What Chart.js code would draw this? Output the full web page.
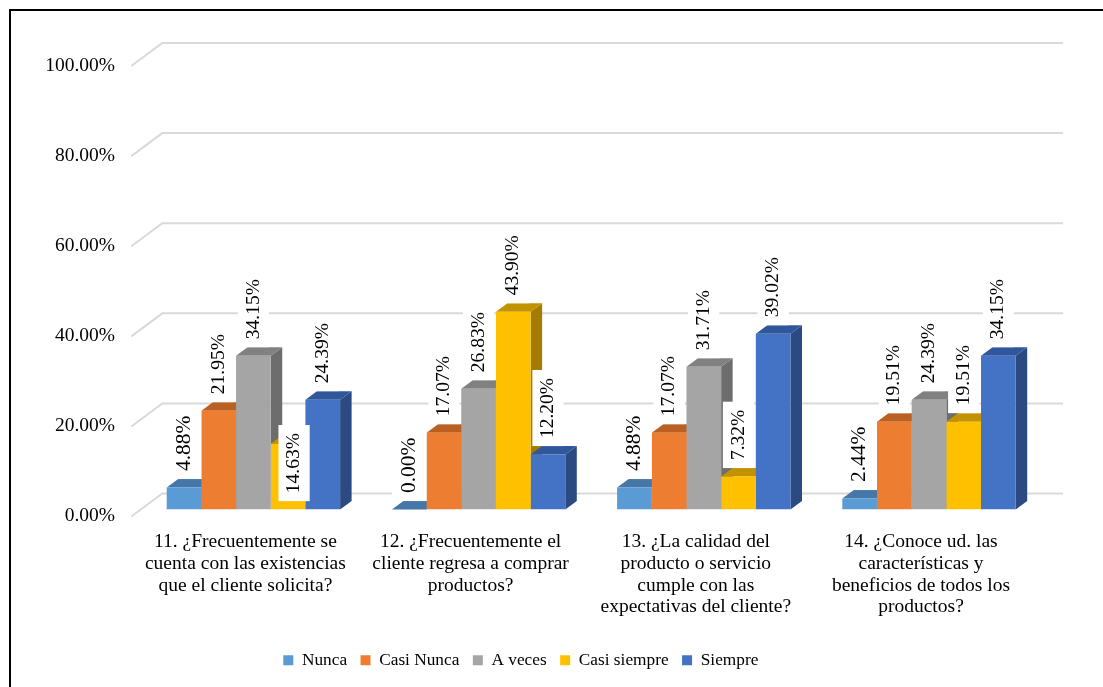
<!DOCTYPE html>
<html>
<head>
<meta charset="utf-8">
<script src="https://cdn.jsdelivr.net/npm/chart.js@4.4.0/dist/chart.umd.min.js"></script>
<style>
  html, body { margin: 0; padding: 0; background: #ffffff; }
  canvas { display: block; }
</style>
</head>
<body>
<canvas id="chart" width="1103" height="687"></canvas>
<script>
// Survey questions (category axis), one array of wrapped lines per question
const categories = [
  ['11. ¿Frecuentemente se', 'cuenta con las existencias', 'que el cliente solicita?'],
  ['12. ¿Frecuentemente el', 'cliente regresa a comprar', 'productos?'],
  ['13. ¿La calidad del', 'producto o servicio', 'cumple con las', 'expectativas del cliente?'],
  ['14. ¿Conoce ud. las', 'características y', 'beneficios de todos los', 'productos?']
];

// Answer options
const seriesNames = ['Nunca', 'Casi Nunca', 'A veces', 'Casi siempre', 'Siempre'];

// Percentage of respondents per answer option
const nunca       = [4.88, 0.00, 4.88, 2.44];
const casiNunca   = [21.95, 17.07, 17.07, 19.51];
const aVeces      = [34.15, 26.83, 31.71, 24.39];
const casiSiempre = [14.63, 43.90, 7.32, 19.51];
const siempre     = [24.39, 12.20, 39.02, 34.15];

// Value axis ticks
const yTicks = [0, 20, 40, 60, 80, 100];

// Face colours for each series: front, top, right side
const faceColors = [
  { front: '#5B9BD5', top: '#4577A8', side: '#3B6896' },
  { front: '#ED7D31', top: '#BA6022', side: '#A6541C' },
  { front: '#A5A5A5', top: '#818181', side: '#6D6D6D' },
  { front: '#FFC000', top: '#C29200', side: '#A47C00' },
  { front: '#4472C4', top: '#30579B', side: '#2B4A82' }
];

const SERIF = '"Liberation Serif", "Times New Roman", Times, serif';

Chart.defaults.font.family = SERIF;
Chart.defaults.font.size = 17.3;
Chart.defaults.color = '#000000';

// Oblique 3D projection offsets (pixels)
const depth = {
  bar:   { dx: 11.5, dy: 8.5 },   // thickness of each column
  back:  { dx: 21.5, dy: 16 },    // from column front plane to back wall
  front: { dx: -9.5, dy: -7 }     // from column front plane to front edge of floor
};

// Hand-moved data label (dataset index, point index, shift in px)
const labelShift = [{ ds: 3, i: 0, dx: 6, dy: 66 }];

const allSeries = [nunca, casiNunca, aVeces, casiSiempre, siempre];

const frame = {
  id: 'frame',
  beforeDraw(chart) {
    const ctx = chart.ctx;
    ctx.save();
    ctx.fillStyle = '#ffffff';
    ctx.fillRect(0, 0, chart.width, chart.height);
    ctx.strokeStyle = '#000000';
    ctx.lineWidth = 2;
    ctx.strokeRect(10, 10, chart.width + 50, chart.height + 50);
    ctx.restore();
  }
};

const walls3d = {
  id: 'walls3d',
  beforeDatasetsDraw(chart) {
    const ctx = chart.ctx;
    const y = chart.scales.y;
    const area = chart.chartArea;
    ctx.save();
    // back-wall gridlines with the slanted side-wall part on the left
    ctx.strokeStyle = '#D9D9D9';
    ctx.lineWidth = 2;
    yTicks.forEach(v => {
      const py = y.getPixelForValue(v);
      ctx.beginPath();
      ctx.moveTo(area.left + depth.front.dx, py - depth.front.dy);
      ctx.lineTo(area.left + depth.back.dx, py - depth.back.dy);
      ctx.lineTo(area.right + depth.back.dx, py - depth.back.dy);
      ctx.stroke();
    });
    // top and side faces of the columns, left to right inside each group
    const metas = chart.data.datasets.map((d, k) => chart.getDatasetMeta(k));
    const dx = depth.bar.dx, dy = depth.bar.dy;
    categories.forEach((c, j) => {
      metas.forEach((meta, k) => {
        const el = meta.data[j];
        if (!el) return;
        const x0 = el.x - el.width / 2, x1 = el.x + el.width / 2;
        const yt = el.y, yb = el.base;
        ctx.fillStyle = faceColors[k].side;
        ctx.beginPath();
        ctx.moveTo(x1, yt);
        ctx.lineTo(x1 + dx, yt - dy);
        ctx.lineTo(x1 + dx, yb - dy);
        ctx.lineTo(x1, yb);
        ctx.closePath();
        ctx.fill();
        ctx.fillStyle = faceColors[k].top;
        ctx.beginPath();
        ctx.moveTo(x0, yt);
        ctx.lineTo(x0 + dx, yt - dy);
        ctx.lineTo(x1 + dx, yt - dy);
        ctx.lineTo(x1, yt);
        ctx.closePath();
        ctx.fill();
      });
    });
    ctx.restore();
  }
};

const valueLabels = {
  id: 'valueLabels',
  afterDatasetsDraw(chart) {
    const ctx = chart.ctx;
    ctx.save();
    chart.data.datasets.forEach((ds, k) => {
      const meta = chart.getDatasetMeta(k);
      const size = k === 0 ? 21.5 : 19.5;
      const half = size * 0.8;
      ctx.font = size + 'px ' + SERIF;
      meta.data.forEach((el, i) => {
        const txt = ds.data[i].toFixed(2) + '%';
        const shift = labelShift.find(s => s.ds === k && s.i === i);
        const cx = el.x + (shift ? shift.dx : 0);
        const ys = el.y - depth.bar.dy - 8 + (shift ? shift.dy : 0);
        const w = ctx.measureText(txt).width;
        ctx.save();
        ctx.translate(cx, ys);
        ctx.rotate(-Math.PI / 2);
        ctx.fillStyle = '#ffffff';
        ctx.fillRect(-8, -half, w + 16, half * 2);
        ctx.fillStyle = '#000000';
        ctx.textAlign = 'left';
        ctx.textBaseline = 'middle';
        ctx.fillText(txt, 0, 0);
        ctx.restore();
      });
    });
    ctx.restore();
  }
};

const datasets = seriesNames.map((name, k) => ({
  label: name,
  data: allSeries[k],
  backgroundColor: faceColors[k].front,
  borderWidth: 0,
  categoryPercentage: 0.77,
  barPercentage: 1.0
}));

new Chart(document.getElementById('chart'), {
  type: 'bar',
  data: { labels: categories, datasets },
  plugins: [frame, walls3d, valueLabels],
  options: {
    responsive: false,
    animation: false,
    devicePixelRatio: 1,
    layout: { padding: { left: 0, right: 61.4, top: 59, bottom: 8.2 } },
    events: [],
    plugins: {
      tooltip: { enabled: false },
      legend: {
        position: 'bottom',
        labels: {
          boxWidth: 10,
          boxHeight: 10,
          padding: 13.5,
          color: '#000000',
          font: { family: SERIF, size: 17.3 }
        }
      }
    },
    scales: {
      x: {
        grid: { display: false, drawTicks: false },
        border: { display: false },
        ticks: {
          color: '#000000',
          font: { family: SERIF, size: 19.5, lineHeight: 1.11 },
          padding: 22,
          labelOffset: -8,
          maxRotation: 0,
          autoSkip: false
        },
        afterFit(scale) { scale.height = 128.45; }
      },
      y: {
        min: 0,
        max: 100,
        grid: { display: false, drawTicks: false },
        border: { display: false },
        afterBuildTicks(scale) { scale.ticks = yTicks.map(v => ({ value: v })); },
        ticks: {
          color: '#000000',
          font: { family: SERIF, size: 19.5 },
          padding: 25.8,
          labelOffset: 6.5,
          callback: v => Number(v).toFixed(2) + '%'
        },
        afterFit(scale) { scale.width = 140.8; }
      }
    }
  }
});
</script>
</body>
</html>
